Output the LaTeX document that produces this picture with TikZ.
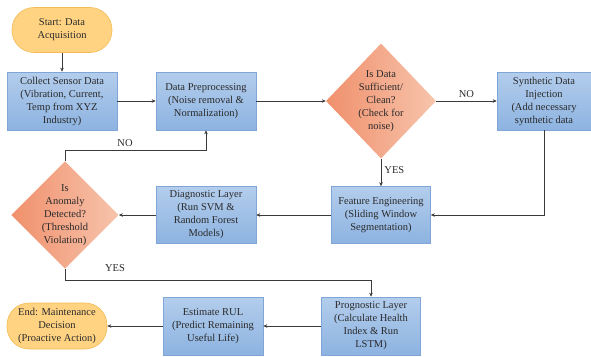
\documentclass[tikz,border=0pt]{standalone}
\usepackage{fontspec}
\setmainfont{Liberation Serif}
\usetikzlibrary{shapes.geometric,arrows.meta}
\definecolor{boxtop}{HTML}{B3CDEC}
\definecolor{boxbot}{HTML}{8DB3E1}
\definecolor{boxborder}{HTML}{7FA6D6}
\definecolor{dialeft}{HTML}{F0906C}
\definecolor{diaright}{HTML}{F7C4AC}
\definecolor{termfill}{HTML}{FFD382}
\definecolor{termborder}{HTML}{F3BC55}
\definecolor{linec}{HTML}{3A3A3A}
\definecolor{textc}{HTML}{2A2A2A}
\begin{document}
\begin{tikzpicture}[x=1pt,y=-1pt,
  every node/.style={text=textc, font=\fontsize{10.5}{13}\selectfont},
  box/.style={draw=boxborder, line width=0.6pt, top color=boxtop, bottom color=boxbot, align=center, inner sep=1pt},
  dia/.style={diamond, draw=none, left color=dialeft, right color=diaright, align=center, inner sep=0pt},
  term/.style={draw=termborder, line width=0.6pt, fill=termfill, rounded corners=22pt, align=center, inner sep=1pt},
  conn/.style={draw=linec, line width=0.9pt, -{Stealth[length=4pt,width=3.5pt]}},
  lbl/.style={inner sep=1pt}
]
\useasboundingbox (0,0) rectangle (591,356);

\node[term, minimum width=100pt, minimum height=45pt] (start) at (62,30) {Start: Data\\Acquisition};
\node[box, minimum width=110pt, minimum height=58pt] (collect) at (62,101) {Collect Sensor Data\\(Vibration, Current,\\Temp from XYZ\\Industry)};
\node[box, minimum width=100pt, minimum height=58pt] (prep) at (206,101) {Data Preprocessing\\(Noise removal \&\\Normalization)};
\node[dia, minimum width=110pt, minimum height=115pt] (d1) at (381,101) {Is Data\\Sufficient/\\Clean?\\(Check for\\noise)};
\node[box, minimum width=94pt, minimum height=58pt] (synth) at (544,101) {Synthetic Data\\Injection\\(Add necessary\\synthetic data};
\node[box, minimum width=99pt, minimum height=57pt] (feat) at (381,215) {Feature Engineering\\(Sliding Window\\Segmentation)};
\node[box, minimum width=100pt, minimum height=57pt] (diag) at (206,215) {Diagnostic Layer\\(Run SVM \&\\Random Forest\\Models)};
\node[dia, minimum width=107pt, minimum height=96pt] (d2) at (65,215) {Is\\Anomaly\\Detected?\\(Threshold\\Violation)};
\node[box, minimum width=99pt, minimum height=58pt] (prog) at (371,326) {Prognostic Layer\\(Calculate Health\\Index \& Run\\LSTM)};
\node[box, minimum width=100pt, minimum height=58pt] (rul) at (213,326) {Estimate RUL\\(Predict Remaining\\Useful Life)};
\node[term, minimum width=100pt, minimum height=46pt] (end) at (57,326) {End: Maintenance\\Decision\\(Proactive Action)};

\coordinate (noturn) at (65,150);
\coordinate (yesturn) at (65,280);

\draw[conn] (start) -- (collect);
\draw[conn] (collect) -- (prep);
\draw[conn] (prep) -- (d1);
\draw[conn] (d1) -- node[lbl, above, yshift=2pt] {NO} (synth);
\draw[conn] (d1) -- node[lbl, right, xshift=2pt, pos=0.4] {YES} (feat);
\draw[conn] (synth.south) |- (feat.east);
\draw[conn] (feat) -- (diag);
\draw[conn] (diag) -- (d2);
\draw[conn] (d2.north) -- (noturn) -| (prep.south);
\node[lbl] (nolbl) at (125,143) {NO};
\draw[conn] (d2.south) -- (yesturn) -| (prog.north);
\node[lbl] (yeslbl) at (115,268) {YES};
\draw[conn] (prog) -- (rul);
\draw[conn] (rul) -- (end);
\end{tikzpicture}
\end{document}
